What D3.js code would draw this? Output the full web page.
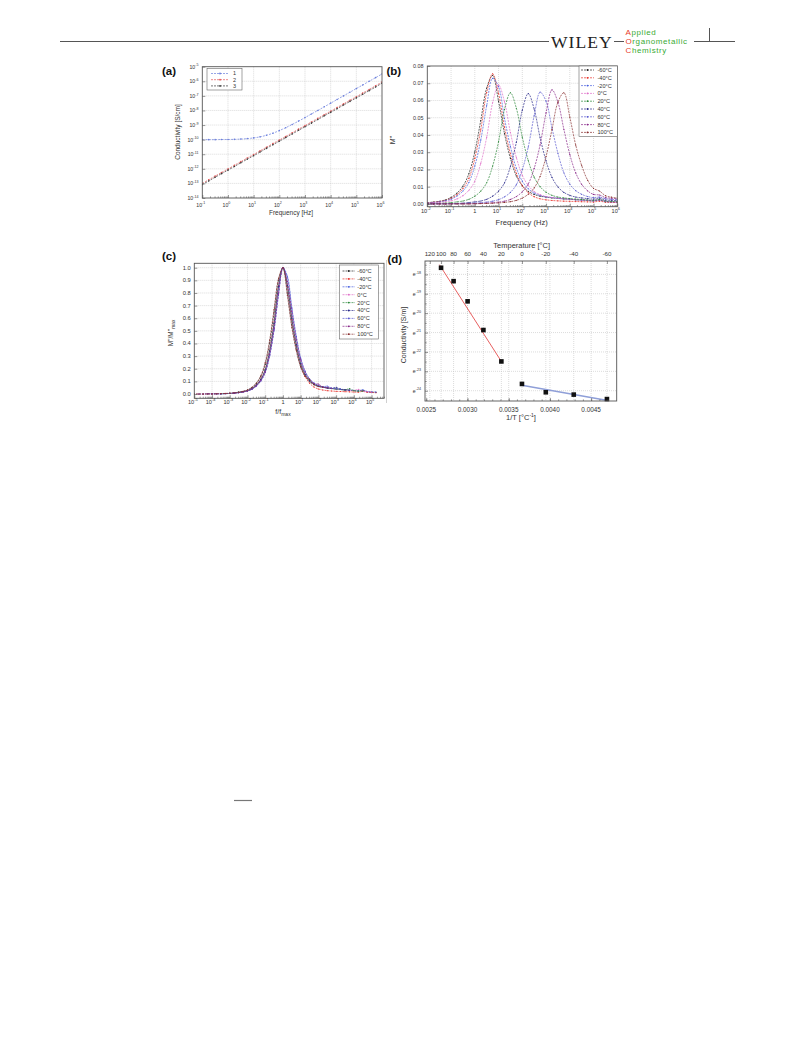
<!DOCTYPE html>
<html><head><meta charset="utf-8">
<script src="https://cdn.jsdelivr.net/npm/d3@7"></script>
<style>body{margin:0;background:#fff}svg{display:block}text{font-family:"Liberation Sans",Arial,sans-serif;fill:#333}</style>
</head><body><script>
// ---------- DATA ----------
// Panel (a): conductivity vs frequency (log10 values)
const aLogFreq = [-1,-0.75,-0.5,-0.25,0,0.25,0.5,0.75,1,1.25,1.5,1.75,2,2.25,2.5,2.75,3,3.25,3.5,3.75,4,4.25,4.5,4.75,5,5.25,5.5,5.75,6];
const aSigma1 = [-10.00,-10.00,-10.00,-9.99,-9.99,-9.98,-9.96,-9.93,-9.88,-9.81,-9.70,-9.56,-9.38,-9.18,-8.96,-8.73,-8.49,-8.24,-8.00,-7.75,-7.50,-7.25,-7.00,-6.75,-6.50,-6.25,-6.00,-5.75,-5.50];
const aSigma2 = [-13.00,-12.75,-12.50,-12.25,-12.01,-11.76,-11.51,-11.26,-11.02,-10.77,-10.52,-10.27,-10.03,-9.78,-9.53,-9.28,-9.04,-8.79,-8.54,-8.29,-8.05,-7.80,-7.55,-7.30,-7.06,-6.81,-6.56,-6.31,-6.05];
const aSigma3 = [-13.08,-12.83,-12.58,-12.33,-12.09,-11.84,-11.59,-11.34,-11.10,-10.85,-10.60,-10.35,-10.11,-9.86,-9.61,-9.36,-9.12,-8.87,-8.62,-8.37,-8.13,-7.88,-7.63,-7.38,-7.14,-6.89,-6.64,-6.39,-6.13];
const aSeriesNames = ["1","2","3"];
const aXTickExp = [-1,0,1,2,3,4,5,6];
const aYTickExp = [-5,-6,-7,-8,-9,-10,-11,-12,-13,-14];

// Panel (b): M'' vs frequency (log10 Hz grid)
const bLogFreq = [-2,-1.75,-1.5,-1.25,-1,-0.75,-0.5,-0.25,0,0.25,0.5,0.75,1,1.25,1.5,1.75,2,2.25,2.5,2.75,3,3.25,3.5,3.75,4,4.25,4.5,4.75,5,5.25,5.5,5.75,6];
const bM_m60 = [0.0007,0.0011,0.0015,0.0023,0.0038,0.0063,0.0103,0.0175,0.0302,0.0483,0.0672,0.0745,0.0596,0.0408,0.0264,0.0162,0.0106,0.0073,0.0055,0.0045,0.0040,0.0035,0.0032,0.0029,0.0027,0.0024,0.0022,0.0020,0.0017,0.0022,0.0014,0.0011,0.0010];
const bM_m40 = [0.0007,0.0009,0.0014,0.0020,0.0032,0.0054,0.0089,0.0148,0.0264,0.0430,0.0646,0.0755,0.0642,0.0445,0.0291,0.0178,0.0105,0.0065,0.0042,0.0030,0.0024,0.0020,0.0018,0.0016,0.0015,0.0014,0.0013,0.0012,0.0011,0.0016,0.0010,0.0009,0.0008];
const bM_m20 = [0.0005,0.0008,0.0012,0.0018,0.0027,0.0046,0.0075,0.0124,0.0220,0.0370,0.0570,0.0728,0.0680,0.0496,0.0333,0.0207,0.0132,0.0088,0.0063,0.0049,0.0041,0.0037,0.0033,0.0030,0.0028,0.0025,0.0023,0.0021,0.0018,0.0024,0.0014,0.0012,0.0011];
const bM_0   = [0.0003,0.0006,0.0008,0.0012,0.0018,0.0029,0.0048,0.0079,0.0131,0.0235,0.0386,0.0587,0.0690,0.0593,0.0414,0.0269,0.0166,0.0107,0.0072,0.0054,0.0043,0.0037,0.0033,0.0030,0.0028,0.0025,0.0023,0.0021,0.0019,0.0025,0.0015,0.0013,0.0011];
const bM_20  = [0.0001,0.0002,0.0003,0.0005,0.0008,0.0012,0.0017,0.0027,0.0045,0.0074,0.0123,0.0219,0.0361,0.0548,0.0645,0.0555,0.0387,0.0252,0.0155,0.0100,0.0068,0.0050,0.0040,0.0035,0.0031,0.0028,0.0026,0.0023,0.0021,0.0027,0.0017,0.0015,0.0014];
const bM_40  = [0.0001,0.0001,0.0001,0.0001,0.0002,0.0003,0.0005,0.0008,0.0012,0.0017,0.0027,0.0045,0.0074,0.0122,0.0218,0.0358,0.0544,0.0640,0.0550,0.0384,0.0250,0.0154,0.0099,0.0067,0.0050,0.0040,0.0035,0.0031,0.0028,0.0034,0.0023,0.0021,0.0019];
const bM_60  = [0.0000,0.0000,0.0001,0.0001,0.0001,0.0001,0.0002,0.0003,0.0005,0.0007,0.0011,0.0016,0.0025,0.0041,0.0067,0.0112,0.0199,0.0330,0.0512,0.0648,0.0596,0.0440,0.0294,0.0181,0.0115,0.0077,0.0056,0.0043,0.0037,0.0040,0.0030,0.0027,0.0025];
const bM_80  = [0.0000,0.0000,0.0000,0.0000,0.0001,0.0001,0.0001,0.0001,0.0002,0.0003,0.0005,0.0007,0.0011,0.0016,0.0026,0.0043,0.0070,0.0116,0.0206,0.0343,0.0528,0.0662,0.0590,0.0433,0.0287,0.0180,0.0114,0.0076,0.0055,0.0052,0.0037,0.0033,0.0030];
const bM_100 = [0.0000,0.0000,0.0000,0.0000,0.0000,0.0000,0.0000,0.0000,0.0001,0.0002,0.0003,0.0004,0.0006,0.0009,0.0013,0.0021,0.0034,0.0056,0.0093,0.0160,0.0275,0.0432,0.0590,0.0645,0.0504,0.0341,0.0223,0.0138,0.0090,0.0075,0.0048,0.0039,0.0034];
const tempLabels = ["-60°C","-40°C","-20°C","0°C","20°C","40°C","60°C","80°C","100°C"];
const bYTicks = [0,0.01,0.02,0.03,0.04,0.05,0.06,0.07,0.08];
const bXTickExp = [-2,-1,0,1,2,3,4,5,6];

// Panel (c): ticks
const cXTickExp = [-5,-4,-3,-2,-1,0,1,2,3,4,5];
const cYTicks = [0,0.1,0.2,0.3,0.4,0.5,0.6,0.7,0.8,0.9,1.0];

// Panel (d): Arrhenius plot
const dTempC = [100,80,60,40,20,0,-20,-40,-60];
const dLnSigma = [-17.66,-18.35,-19.39,-20.87,-22.49,-23.65,-24.08,-24.20,-24.43];
const dFitHighInvT = [0.00266,0.00342];
const dFitHighLn = [-17.50,-22.55];
const dFitLowInvT = [0.00366,0.00470];
const dFitLowLn = [-23.72,-24.50];
const dXTicks = [0.0025,0.0030,0.0035,0.0040,0.0045];
const dTopTicks = [120,100,80,60,40,20,0,-20,-40,-60];
const dYTicks = [-18,-19,-20,-21,-22,-23,-24];

// ---------- STYLE ----------
const aColors = ["#6b7fdc","#e25555","#3a3a3a"];
const tColors = ["#222222","#e8302a","#4a62e0","#e070c8","#2f8a3c","#2a2a8a","#5a5ad0","#8a2a8a","#8a3030"];
const FR = "#555";

const svg = d3.select("body").append("svg").attr("width",793).attr("height",1043);

// ---------- header ----------
svg.append("line").attr("x1",60).attr("x2",549).attr("y1",41.5).attr("y2",41.5).attr("stroke","#555").attr("stroke-width",1);
svg.append("text").attr("x",551).attr("y",48).attr("font-size",17.5).attr("letter-spacing",1.1)
  .style("font-family","'Liberation Serif',serif").style("fill","#222").text("WILEY");
svg.append("line").attr("x1",614).attr("x2",624).attr("y1",41.5).attr("y2",41.5).attr("stroke","#555").attr("stroke-width",1);
svg.append("line").attr("x1",694).attr("x2",735).attr("y1",41.5).attr("y2",41.5).attr("stroke","#555").attr("stroke-width",1);
svg.append("line").attr("x1",709.5).attr("x2",709.5).attr("y1",28).attr("y2",41.5).attr("stroke","#555").attr("stroke-width",1);
[["A","pplied",35],["O","rganometallic",44],["C","hemistry",53]].forEach(([f,r,y])=>{
  const t = svg.append("text").attr("x",625.5).attr("y",y).attr("font-size",8).attr("letter-spacing",0.6);
  t.append("tspan").style("fill","#e8402a").text(f);
  t.append("tspan").style("fill","#3aaa35").text(r);
});
svg.append("line").attr("x1",234).attr("x2",252).attr("y1",800.5).attr("y2",800.5).attr("stroke","#777").attr("stroke-width",1.2);
svg.append("line").attr("x1",386.5).attr("x2",386.5).attr("y1",260).attr("y2",403).attr("stroke","#bbb").attr("stroke-width",0.7);

// ---------- helpers ----------
function frame(x0,x1,y0,y1){
  svg.append("rect").attr("x",x0).attr("y",y0).attr("width",x1-x0).attr("height",y1-y0)
    .attr("fill","none").attr("stroke",FR).attr("stroke-width",0.9);
}
function axis(kind, scale, values, size, tx, ty){
  const f = {bottom:d3.axisBottom,top:d3.axisTop,left:d3.axisLeft,right:d3.axisRight}[kind];
  const g = svg.append("g").attr("transform",`translate(${tx},${ty})`)
    .call(f(scale).tickValues(values).tickSize(size).tickFormat(""));
  g.select(".domain").remove();
  g.selectAll("line").attr("stroke",FR).attr("stroke-width",0.6);
}
function grid(xScale, xs, yScale, ys, x0,x1,y0,y1){
  const g = svg.append("g").attr("stroke","#c4c4c4").attr("stroke-width",0.6).attr("stroke-dasharray","1,1");
  xs.forEach(v=>g.append("line").attr("x1",xScale(v)).attr("x2",xScale(v)).attr("y1",y0).attr("y2",y1));
  ys.forEach(v=>g.append("line").attr("y1",yScale(v)).attr("y2",yScale(v)).attr("x1",x0).attr("x2",x1));
}
function supLabel(x,y,base,exp,fs,anchor){
  const t = svg.append("text").attr("x",x).attr("y",y).attr("font-size",fs).attr("text-anchor",anchor);
  t.append("tspan").text(base);
  if(exp!==null && exp!==undefined) t.append("tspan").attr("dy",-fs*0.45).attr("font-size",fs*0.7).text(exp);
  return t;
}
function minorLog(lo,hi){ const out=[]; for(let e=lo;e<hi;e++) for(let k=2;k<=9;k++) out.push(k*Math.pow(10,e)); return out; }
function clip(id,x0,x1,y0,y1){
  svg.append("clipPath").attr("id",id).append("rect").attr("x",x0).attr("y",y0).attr("width",x1-x0).attr("height",y1-y0);
}
function series(pts, xS, yS, color, clipId, r, dash){
  const g = svg.append("g").attr("clip-path",`url(#${clipId})`);
  g.append("path").datum(pts).attr("fill","none").attr("stroke",color).attr("stroke-width",0.7)
    .attr("stroke-dasharray",dash).attr("d",d3.line().x(d=>xS(d[0])).y(d=>yS(d[1])).curve(d3.curveCatmullRom.alpha(0.5)));
  g.selectAll("circle").data(pts).join("circle").attr("cx",d=>xS(d[0])).attr("cy",d=>yS(d[1])).attr("r",r).attr("fill",color);
}
function legend(x0,x1,y0,y1,names,colors,ys,lineX0,lineX1,textX,fs){
  svg.append("rect").attr("x",x0).attr("y",y0).attr("width",x1-x0).attr("height",y1-y0)
    .attr("fill","#fff").attr("stroke","#666").attr("stroke-width",0.6);
  names.forEach((n,i)=>{
    const y = ys(i);
    svg.append("line").attr("x1",lineX0).attr("x2",lineX1).attr("y1",y).attr("y2",y).attr("stroke",colors[i]).attr("stroke-width",0.7).attr("stroke-dasharray","2,1");
    svg.append("circle").attr("cx",(lineX0+lineX1)/2).attr("cy",y).attr("r",0.9).attr("fill",colors[i]);
    svg.append("text").attr("x",textX).attr("y",y+fs*0.35).attr("font-size",fs).text(n);
  });
}
function panelLabel(x,y,t){
  svg.append("text").attr("x",x).attr("y",y).attr("font-size",11.5).attr("font-weight","bold").style("fill","#111").text(t);
}

// ---------- Panel (a) ----------
{
  const X0=202.3,X1=382,Y0=66.7,Y1=198;
  const x = d3.scaleLog().domain([0.1,1e6]).range([X0,X1]);
  const y = d3.scaleLog().domain([1e-14,1e-5]).range([Y1,Y0]);
  const xt = aXTickExp.map(e=>Math.pow(10,e)), yt = aYTickExp.map(e=>Math.pow(10,e));
  grid(x, xt.slice(1,-1), y, yt.slice(1,-1), X0,X1,Y0,Y1);
  clip("clipA",X0,X1,Y0,Y1);
  [aSigma1,aSigma2,aSigma3].forEach((s,i)=>{
    const pts = aLogFreq.map((lf,j)=>[Math.pow(10,lf),Math.pow(10,s[j])]);
    series(pts,x,y,aColors[i],"clipA",0.8,"2,1.2");
  });
  frame(X0,X1,Y0,Y1);
  axis("bottom",x,xt,-3,0,Y1);
  axis("bottom",x,minorLog(-1,6),-1.6,0,Y1);
  axis("left",y,yt,-3,X0,0);
  aXTickExp.forEach(e=>supLabel(x(Math.pow(10,e))-1.5,206.5,"10",String(e),5.2,"middle"));
  aYTickExp.forEach(e=>supLabel(198.5,y(Math.pow(10,e))+2,"10",String(e),5.2,"end"));
  legend(207,242,68.5,90,aSeriesNames,aColors,i=>73.5+i*6.2,211,229,233,5.5);
  svg.append("text").attr("x",291).attr("y",214.5).attr("font-size",6.5).attr("text-anchor","middle").text("Frequency [Hz]");
  svg.append("text").attr("transform","translate(179.5,132) rotate(-90)").attr("font-size",6.5).attr("text-anchor","middle").text("Conductivity [S/cm]");
  panelLabel(162,75,"(a)");
}

// ---------- Panel (b) ----------
const bAll = [bM_m60,bM_m40,bM_m20,bM_0,bM_20,bM_40,bM_60,bM_80,bM_100];
{
  const X0=427.3,X1=617.3,Y0=66,Y1=206.7;
  const x = d3.scaleLog().domain([0.01,1e6]).range([X0,X1]);
  const y = d3.scaleLinear().domain([-0.0016,0.08]).range([Y1,Y0]);
  const xt = bXTickExp.map(e=>Math.pow(10,e));
  grid(x, xt.slice(1,-1), y, bYTicks.slice(1,-1), X0,X1,Y0,Y1);
  clip("clipB",X0,X1,Y0,Y1);
  bAll.forEach((s,i)=>{
    const pts = bLogFreq.map((lf,j)=>[Math.pow(10,lf),s[j]]);
    series(pts,x,y,tColors[i],"clipB",0.6,"2,1");
  });
  frame(X0,X1,Y0,Y1);
  axis("bottom",x,xt,-3,0,Y1);
  axis("bottom",x,minorLog(-2,6),-1.6,0,Y1);
  axis("left",y,bYTicks,-3,X0,0);
  bXTickExp.forEach(e=>{
    if(e===0) supLabel(x(1),213,"1",null,5.6,"middle");
    else supLabel(x(Math.pow(10,e))-1.5,213,"10",String(e),5.6,"middle");
  });
  bYTicks.forEach(v=>supLabel(423.5,y(v)+2,v.toFixed(2),null,5.4,"end"));
  legend(579,617.3,66,136.5,tempLabels,tColors,i=>70+i*7.8,581,594,597.5,5.6);
  svg.append("text").attr("x",521.7).attr("y",224.5).attr("font-size",7.6).attr("text-anchor","middle").text("Frequency (Hz)");
  svg.append("text").attr("transform","translate(395,140) rotate(-90)").attr("font-size",7).attr("text-anchor","middle").text("M''");
  panelLabel(386.5,74.5,"(b)");
}

// ---------- Panel (c) ----------
{
  const X0=194.3,X1=384,Y0=263.3,Y1=398.3;
  const x = d3.scaleLog().domain([1e-5,Math.pow(10,5.7)]).range([X0,X1]);
  const y = d3.scaleLinear().domain([-0.034,1.035]).range([Y1,Y0]);
  const xt = cXTickExp.map(e=>Math.pow(10,e));
  grid(x, xt.slice(1), y, cYTicks.slice(1), X0,X1,Y0,Y1);
  clip("clipC",X0,X1,Y0,Y1);
  bAll.forEach((s,i)=>{
    const mx = d3.max(s), im = s.indexOf(mx), fmax = bLogFreq[im];
    const pts = bLogFreq.map((lf,j)=>[Math.pow(10,lf-fmax),s[j]/mx]);
    series(pts,x,y,tColors[i],"clipC",0.6,"2,1");
  });
  frame(X0,X1,Y0,Y1);
  axis("bottom",x,xt,-3,0,Y1);
  axis("bottom",x,minorLog(-5,6).filter(v=>v<=Math.pow(10,5.7)),-1.6,0,Y1);
  axis("left",y,cYTicks,-3,X0,0);
  cXTickExp.forEach(e=>{
    if(e===0) supLabel(x(1),404,"1",null,5.6,"middle");
    else supLabel(x(Math.pow(10,e))-1.5,404,"10",String(e),5.6,"middle");
  });
  cYTicks.forEach(v=>supLabel(190.8,y(v)+2,v.toFixed(1),null,5.8,"end"));
  legend(339.3,378.3,265,339,tempLabels,tColors,i=>271+i*7.9,342.5,355,357.3,5.6);
  const xt2 = svg.append("text").attr("x",283).attr("y",414).attr("font-size",7).attr("text-anchor","middle");
  xt2.append("tspan").text("f/f");
  xt2.append("tspan").attr("dy",2).attr("font-size",5).text("max");
  const yt2 = svg.append("text").attr("transform","translate(173,333) rotate(-90)").attr("font-size",6.5).attr("text-anchor","middle");
  yt2.append("tspan").text("M''/M''");
  yt2.append("tspan").attr("dy",2).attr("font-size",4.8).text("max");
  panelLabel(162,260,"(c)");
}

// ---------- Panel (d) ----------
{
  const X0=425,X1=616.7,Y0=261,Y1=401;
  const x = d3.scaleLinear().domain([0.002485,0.00481]).range([X0,X1]);
  const y = d3.scaleLinear().domain([-24.53,-17.31]).range([Y1,Y0]);
  const invT = t => 1/(t+273.15);
  grid(x, dXTicks.concat(dTopTicks.map(invT)), y, dYTicks, X0,X1,Y0,Y1);
  clip("clipD",X0,X1,Y0,Y1);
  const line = d3.line().x(d=>x(d[0])).y(d=>y(d[1]));
  svg.append("path").datum(dFitHighInvT.map((v,i)=>[v,dFitHighLn[i]])).attr("d",line).attr("stroke","#e86060").attr("stroke-width",1).attr("fill","none");
  svg.append("path").datum(dFitLowInvT.map((v,i)=>[v,dFitLowLn[i]])).attr("d",line).attr("stroke","#8f9fd8").attr("stroke-width",1.6).attr("fill","none");
  svg.append("g").selectAll("rect").data(dTempC).join("rect")
    .attr("x",(d,i)=>x(invT(d))-2.3).attr("y",(d,i)=>y(dLnSigma[i])-2.3).attr("width",4.6).attr("height",4.6).attr("fill","#111");
  frame(X0,X1,Y0,Y1);
  axis("bottom",x,dXTicks,-3,0,Y1);
  axis("bottom",x,d3.range(25,48).map(v=>v/10000),-1.6,0,Y1);
  axis("top",x,dTopTicks.map(invT),-3,0,Y0);
  axis("left",y,dYTicks,-3,X0,0);
  axis("left",y,dYTicks.map(v=>v+0.5),-1.6,X0,0);
  dXTicks.forEach(v=>supLabel(x(v),412,v.toFixed(4),null,6.4,"middle"));
  dTopTicks.forEach(t=>supLabel(x(invT(t)),255.5,String(t),null,6.2,"middle"));
  dYTicks.forEach(v=>supLabel(421,y(v)+2,"e",String(v),5.2,"end"));
  svg.append("text").attr("x",521.7).attr("y",247.5).attr("font-size",7.5).attr("text-anchor","middle").text("Temperature [°C]");
  const xl = svg.append("text").attr("x",521).attr("y",420).attr("font-size",7.5).attr("text-anchor","middle");
  xl.append("tspan").text("1/T [°C");
  xl.append("tspan").attr("dy",-3).attr("font-size",5).text("-1");
  xl.append("tspan").attr("dy",3).text("]");
  svg.append("text").attr("transform","translate(406,335) rotate(-90)").attr("font-size",7).attr("text-anchor","middle").text("Conductivity [S/m]");
  panelLabel(387.5,263,"(d)");
}
</script></body></html>
